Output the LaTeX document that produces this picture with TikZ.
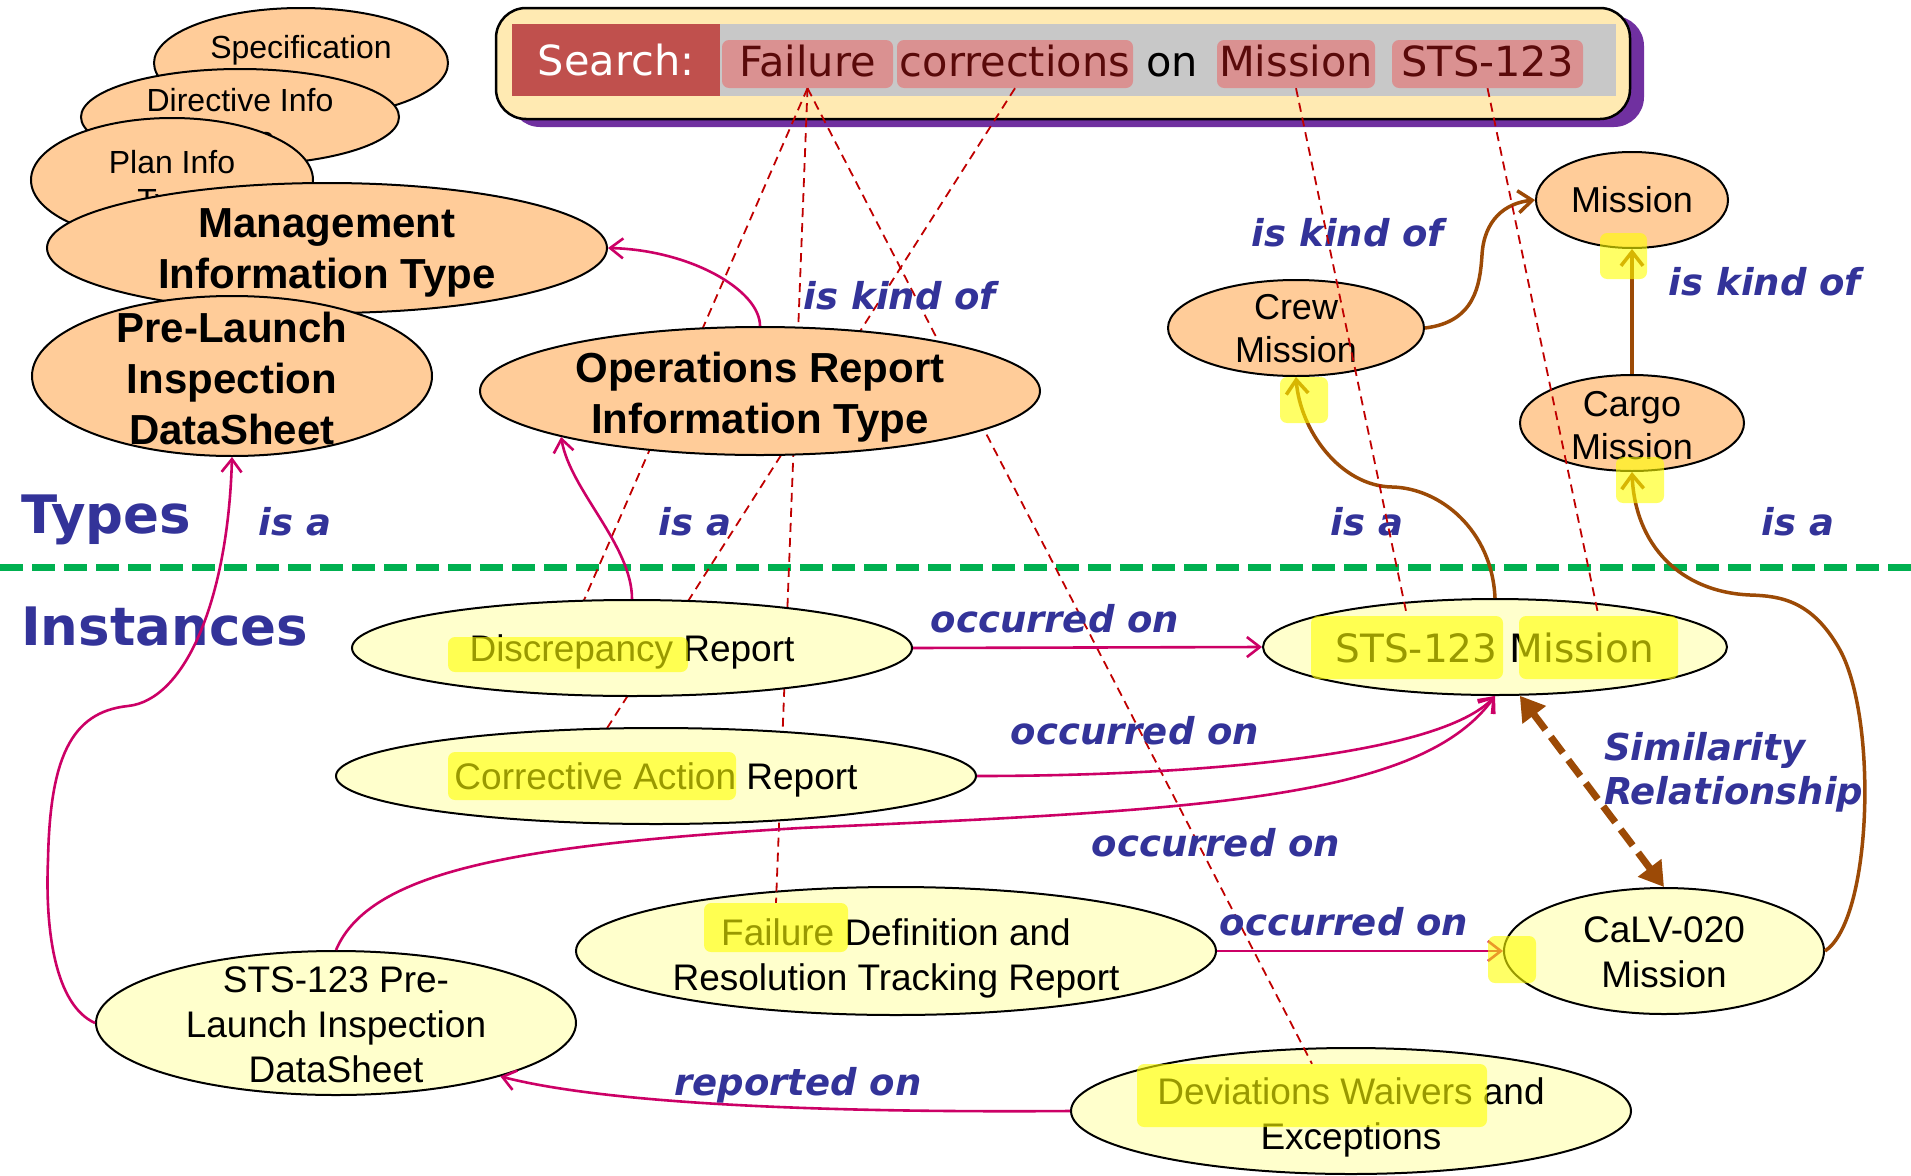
\documentclass[tikz,border=0pt]{standalone}
\usepackage{fontspec}
\setmainfont{Liberation Sans}
\newfontfamily\dvfont{DejaVu Sans}
\usetikzlibrary{arrows.meta,shapes.geometric}
\pgfdeclarelayer{low}
\pgfdeclarelayer{mid}
\pgfsetlayers{low,mid,main}

\definecolor{typefill}{HTML}{FFCC99}
\definecolor{instfill}{HTML}{FFFFCC}
\definecolor{linkpink}{HTML}{CC0066}
\definecolor{linkbrown}{HTML}{9C4A06}
\definecolor{labelblue}{HTML}{333399}
\definecolor{hitred}{HTML}{C00000}
\definecolor{divgreen}{HTML}{00B050}
\definecolor{boxcream}{HTML}{FFEAB2}
\definecolor{boxshadow}{HTML}{7030A0}
\definecolor{bargray}{HTML}{C8C8C8}
\definecolor{searchred}{HTML}{C0504D}
\definecolor{wordpink}{HTML}{DA9191}
\definecolor{wordtext}{HTML}{5A0A0A}
\definecolor{marker}{HTML}{FFFF00}

\tikzset{
  oval/.style={ellipse, draw=black, line width=2pt, inner sep=0pt},
  typeoval/.style={oval, fill=typefill},
  instoval/.style={oval, fill=instfill},
  txt32/.style={font=\fontsize{32}{38}\selectfont, align=center, inner sep=0pt},
  txt36/.style={font=\fontsize{36}{43}\selectfont, align=center, inner sep=0pt},
  txt37/.style={font=\fontsize{37}{45}\selectfont, align=center, inner sep=0pt},
  txtbold/.style={font=\bfseries\fontsize{42}{51}\selectfont, align=center, inner sep=0pt},
  txtvera/.style={font=\dvfont\fontsize{39}{46}\selectfont, align=center, inner sep=0pt},
  relabel/.style={font=\dvfont\bfseries\itshape\fontsize{37}{44}\selectfont, text=labelblue, inner sep=0pt},
  zonetitle/.style={font=\dvfont\bfseries\fontsize{53}{60}\selectfont, text=labelblue, inner sep=0pt, anchor=west},
  srchfont/.style={font=\dvfont\fontsize{41.5}{48}\selectfont, text height=30pt, text depth=6pt, inner sep=0pt},
  srchword/.style={srchfont, rectangle, rounded corners=7pt, fill=wordpink, text=wordtext, minimum height=48pt},
  markbox/.style={rectangle, fill=marker, fill opacity=0.6, rounded corners=7pt, inner sep=0pt, draw=none},
  pinklink/.style={draw=linkpink, line width=2.6pt, -{Straight Barb[length=13pt,width=20pt]}},
  brownlink/.style={draw=linkbrown, line width=3.5pt, -{Straight Barb[length=14pt,width=22pt]}},
  hitline/.style={draw=hitred, line width=1.8pt, dash pattern=on 9pt off 6pt},
  simlink/.style={draw=linkbrown, line width=7pt, dash pattern=on 20pt off 9pt,
    {Triangle[length=24pt,width=28pt]}-{Triangle[length=24pt,width=28pt]}},
}

\begin{document}
\begin{tikzpicture}[x=1pt,y=-1pt]
\useasboundingbox (0,0) rectangle (1911,1175);

% ---------- bottom layer: page, divider, search bar, two report ovals
\begin{pgfonlayer}{low}
  \fill[white] (0,0) rectangle (1911,1175);
  \draw[divgreen, line width=7pt, dash pattern=on 23pt off 9pt] (0,567) -- (1911,567);

  \fill[boxshadow, rounded corners=30pt] (510,16) rectangle (1644,127);
  \draw[line width=2.5pt, fill=boxcream, rounded corners=30pt] (496,8) rectangle (1630,119);
  \fill[bargray] (512,24) rectangle (1616,96);
  \node[srchfont, fill=searchred, text=white, text depth=0pt, minimum width=208pt, minimum height=72pt] (slabel) at (616,60) {Search:};
  \node[srchword, minimum width=171pt] (wfail) at (807.5,64) {Failure};
  \node[srchword, minimum width=236pt] (wcorr) at (1015,64) {corrections};
  \node[srchfont] (won) at (1172,64) {on};
  \node[srchword, minimum width=158pt] (wmiss) at (1296,64) {Mission};
  \node[srchword, minimum width=191pt] (wsts) at (1487.5,64) {STS-123};

  \node[instoval, minimum width=640pt, minimum height=128pt,
        label={[txt37, yshift=-7pt]center:{Failure Definition and\\Resolution Tracking Report}}] (fdr) at (896,951) {};
  \node[instoval, minimum width=560pt, minimum height=126pt,
        label={[txt37, yshift=-6pt]center:{Deviations Waivers and\\Exceptions}}] (dev) at (1351,1111) {};
  \node[markbox, minimum width=144pt, minimum height=49pt] (hfail) at (776,927.5) {};
  \node[markbox, minimum width=350pt, minimum height=63pt] (hdev) at (1312,1095.5) {};
\end{pgfonlayer}

% ---------- type ovals
\node[typeoval, minimum width=294pt, minimum height=110pt,
      label={[txt32, yshift=-6pt]center:{Specification\\Type}}] (spec) at (301,63) {};
\node[typeoval, minimum width=318pt, minimum height=96pt,
      label={[txt32, yshift=-5pt]center:{Directive Info\\Type}}] (dir) at (240,117) {};
\node[typeoval, minimum width=282pt, minimum height=124pt,
      label={[txt32, yshift=-4pt]center:{Plan Info\\Type}}] (plan) at (172,180) {};
\node[typeoval, minimum width=560pt, minimum height=130pt,
      label={[txtbold, yshift=-5pt]center:{Management\\Information Type}}] (mgmt) at (327,248) {};
\node[typeoval, minimum width=400pt, minimum height=160pt,
      label={[txtbold, yshift=-2pt]center:{Pre-Launch\\Inspection\\DataSheet}}] (pl) at (232,376) {};
\node[typeoval, minimum width=560pt, minimum height=128pt,
      label={[txtbold, yshift=-6pt]center:{Operations Report\\Information Type}}] (ops) at (760,391) {};
\node[typeoval, minimum width=192pt, minimum height=96pt,
      label={[txt36]center:{Mission}}] (mis) at (1632,200) {};
\node[typeoval, minimum width=256pt, minimum height=96pt,
      label={[txt36, yshift=-1pt]center:{Crew\\Mission}}] (crew) at (1296,328) {};
\node[typeoval, minimum width=224pt, minimum height=96pt,
      label={[txt36, yshift=-3pt]center:{Cargo\\Mission}}] (cargo) at (1632,423) {};

% ---------- instance ovals
\node[instoval, minimum width=560pt, minimum height=96pt,
      label={[txt37, yshift=-4pt]center:{Discrepancy Report}}] (disc) at (632,648) {};
\node[instoval, minimum width=640pt, minimum height=96pt,
      label={[txt37, yshift=-4pt]center:{Corrective Action Report}}] (car) at (656,776) {};
\node[instoval, minimum width=464pt, minimum height=96pt,
      label={[txtvera, yshift=-1pt]center:{STS-123 Mission}}] (sts) at (1495,647) {};
\node[instoval, minimum width=480pt, minimum height=144pt,
      label={[txt37, yshift=-2pt]center:{STS-123 Pre-\\Launch Inspection\\DataSheet}}] (ds) at (336,1023) {};
\node[instoval, minimum width=320pt, minimum height=126pt,
      label={[txt37, yshift=-1.5pt]center:{CaLV-020\\Mission}}] (calv) at (1664,951) {};

% word markers over the report titles
\node[markbox, minimum width=240pt, minimum height=35pt] (hdisc) at (568,654.5) {};
\node[markbox, minimum width=288pt, minimum height=48pt] (hcor) at (592,776) {};
\node[markbox, minimum width=192pt, minimum height=63pt] (hsts) at (1407,647.5) {};
\node[markbox, minimum width=159pt, minimum height=63pt] (hmis) at (1598.5,647.5) {};

% ---------- zone titles and relation labels
\node[zonetitle] (ztypes) at (21,520) {Types};
\node[zonetitle] (zinst) at (21,627) {Instances};

\node[relabel] (lkind1) at (900,296) {is kind of};
\node[relabel] (lkind2) at (1348,233) {is kind of};
\node[relabel] (lkind3) at (1765,282) {is kind of};
\node[relabel] (lisa1) at (295,522) {is a};
\node[relabel] (lisa2) at (695,522) {is a};
\node[relabel] (lisa3) at (1367,522) {is a};
\node[relabel] (lisa4) at (1798,522) {is a};
\node[relabel] (locc1) at (1055,619) {occurred on};
\node[relabel] (locc2) at (1135,731) {occurred on};
\node[relabel] (locc3) at (1216,843) {occurred on};
\node[relabel] (locc4) at (1344,922) {occurred on};
\node[relabel] (lrep) at (798,1085) {reported on};
\node[relabel, anchor=west, align=left] (lsim) at (1604,772) {Similarity\\Relationship};

% ---------- pink relations
\draw[pinklink] (ops.north) .. controls (760,290) and (690,250) .. (mgmt.east);
\draw[pinklink] (disc.north) .. controls (632,545) and (570,490) .. (ops.-167);
\draw[pinklink] (ds.west) .. controls (55,1005) and (45,930) .. (48,860)
                .. controls (50,760) and (70,712) .. (128,706)
                .. controls (185,700) and (228,600) .. (pl.south);
\draw[pinklink] (disc.east) -- (sts.west);
\draw[pinklink] (car.east) .. controls (1200,776) and (1440,755) .. (sts.south);
\draw[pinklink] (ds.north) .. controls (370,870) and (520,845) .. (800,828)
                .. controls (1200,810) and (1420,800) .. (sts.south);
\draw[pinklink] (fdr.east) -- (calv.west);
\draw[pinklink] (dev.west) .. controls (800,1113) and (600,1102) .. (ds.-18);

% ---------- brown relations
\draw[brownlink] (crew.east) .. controls (1475,322) and (1480,285) .. (1482,255)
                 .. controls (1484,220) and (1505,203) .. (mis.west);
\draw[brownlink] (cargo.north) -- (mis.south);
\draw[brownlink] (sts.north) .. controls (1492,530) and (1440,488) .. (1392,487)
                 .. controls (1340,486) and (1300,430) .. (crew.south);
\draw[brownlink] (calv.east) .. controls (1872,920) and (1878,720) .. (1840,650)
                 .. controls (1812,600) and (1780,596) .. (1750,595)
                 .. controls (1680,592) and (1635,545) .. (cargo.south);
\draw[simlink] (sts.-63) -- (calv.north);

% markers over arrow tips
\node[markbox, minimum width=48pt, minimum height=46pt] (hcrew) at (1304,400) {};
\node[markbox, minimum width=47pt, minimum height=46pt] (hmtop) at (1623.5,256) {};
\node[markbox, minimum width=48pt, minimum height=46pt] (hcargo) at (1640,480) {};
\node[markbox, minimum width=48pt, minimum height=47pt] (hcalv) at (1512,959.5) {};

% ---------- search hits
\begin{pgfonlayer}{mid}
  \draw[hitline] (wfail.south) -- (hdisc.north);
  \draw[hitline] (wfail.south) -- (hfail.north);
  \draw[hitline] (wfail.south) -- (hdev.north);
  \draw[hitline] (wcorr.south) -- (hcor.north);
\end{pgfonlayer}
\draw[hitline] (wmiss.south) -- (hsts.north);
\draw[hitline] (wsts.south) -- (hmis.north);

\end{tikzpicture}
\end{document}
